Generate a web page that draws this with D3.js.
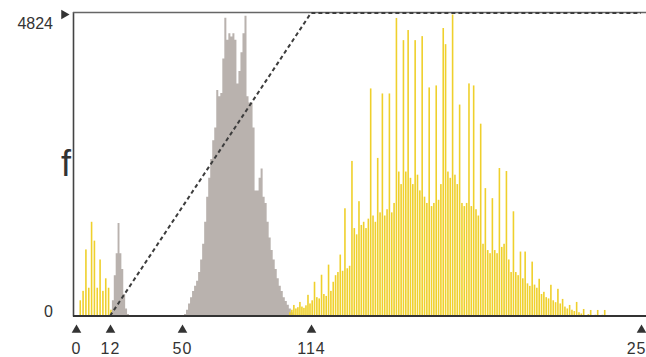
<!DOCTYPE html>
<html>
<head>
<meta charset="utf-8">
<script src="https://cdn.jsdelivr.net/npm/d3@7"></script>
<style>
	body { margin: 0; background: #fff; }
	svg { display: block; font-family: "Liberation Sans", Arial, sans-serif; }
</style>
</head>
<body>
<div id="chart"></div>
<script>
// tick values
const xTickValues = [0, 12, 50, 114, 255];
const yTickValues = [0, 4824];
const yMax = 4824;

// grey histogram, small peak (bins 12..21)
const graySmallStart = 12;
const graySmall = [60, 250, 650, 1000, 1480, 1000, 750, 350, 120, 30];

// grey histogram, main peak (bins 50..105)
const grayLargeStart = 50;
const grayLarge = [
	0, 30, 100, 200, 300, 400, 480, 560, 700, 900,
	1150, 1500, 1900, 2200, 2500, 2800, 3000, 3600, 3500, 3550,
	4100, 4750, 4400, 4500, 4450, 4500, 4400, 3700, 3900, 4200,
	4500, 4780, 3500, 3400, 3400, 3000, 2000, 2000, 2200, 2350,
	1900, 1800, 1500, 1250, 1050, 900, 750, 600, 480, 400,
	300, 240, 180, 120, 60, 20
];

// yellow histogram, low end (bins 0..12)
const yellowLowStart = 0;
const yellowLow = [0, 250, 400, 1060, 450, 1500, 1200, 450, 900, 400, 600, 450, 100];

// yellow histogram, high end (bins 103..240)
const yellowHighStart = 103;
const yellowHigh = [
	60, 100, 176, 120, 140, 224, 150, 130, 170, 337,
	200, 250, 545, 300, 280, 657, 350, 320, 818, 400,
	545, 650, 700, 978, 720, 1715, 760, 800, 2469, 1400,
	1300, 1828, 1450, 1500, 1400, 1550, 3623, 1600, 1500, 2517,
	1650, 3543, 1600, 1700, 3543, 1650, 1800, 4745, 2300, 2100,
	4392, 2300, 4553, 2200, 2100, 4392, 2250, 2000, 4456, 1900,
	1800, 3639, 1750, 1800, 3671, 1850, 2100, 4585, 4328, 2300,
	2200, 4800, 2250, 2100, 3366, 1800, 1750, 1800, 3703, 1750,
	3671, 1700, 1600, 3062, 1150, 2036, 1050, 1000, 1876, 1050,
	1000, 2356, 1100, 1150, 2308, 900, 700, 1667, 700, 650,
	1026, 600, 1026, 520, 480, 866, 500, 450, 593, 350,
	385, 300, 280, 497, 250, 220, 433, 200, 272, 150,
	120, 176, 100, 80, 224, 60, 40, 112, 0, 30,
	96, 0, 20, 96, 0, 20, 96, 0
];

// transfer curve (dashed)
const curvePoints = [[12, 0], [114, 4824], [255, 4824]];

const width = 646;
const height = 357;

const svg = d3.select("#chart")
	.append("svg")
	.attr("width", width)
	.attr("height", height);

// the printed axis is not evenly spaced, so map each labelled tick
const x = d3.scaleLinear()
	.domain(xTickValues)
	.range([76, 110, 182, 311, 641]);

const y = d3.scaleLinear()
	.domain([0, yMax])
	.range([316, 13]);

const toBins = (start, counts) => counts.map((c, i) => ({ v: start + i, c }));

// grey histogram as stepped areas (no seams between bins)
const grayArea = d3.area()
	.x(d => x(d.v))
	.y0(y(0))
	.y1(d => y(d.c))
	.curve(d3.curveStepAfter);

const grayGroup = svg.append("g").attr("class", "gray");
[[graySmallStart, graySmall], [grayLargeStart, grayLarge]].forEach(([start, counts]) => {
	const bins = toBins(start, counts);
	bins.push({ v: start + counts.length, c: 0 });
	grayGroup.append("path")
		.datum(bins)
		.attr("d", grayArea)
		.attr("fill", "#b9b2ae");
});

// yellow lines
const yellowBins = toBins(yellowLowStart, yellowLow).concat(toBins(yellowHighStart, yellowHigh));
svg.append("g")
	.attr("class", "yellow")
	.selectAll("rect")
	.data(yellowBins.filter(d => d.c > 0))
	.join("rect")
	.attr("x", d => (x(d.v) + x(d.v + 1)) / 2 - 0.8)
	.attr("width", 1.6)
	.attr("y", d => y(d.c))
	.attr("height", d => y(0) - y(d.c))
	.attr("fill", "#efd02c");

// frame
svg.append("line")
	.attr("x1", 73.5).attr("x2", 73.5)
	.attr("y1", 12).attr("y2", 316.5)
	.attr("stroke", "#444").attr("stroke-width", 1.6);
svg.append("line")
	.attr("x1", 73).attr("x2", width)
	.attr("y1", 12.5).attr("y2", 12.5)
	.attr("stroke", "#666").attr("stroke-width", 1.4);

// dashed transfer line
svg.append("path")
	.datum(curvePoints)
	.attr("d", d3.line().x(d => x(d[0])).y(d => y(d[1])))
	.attr("fill", "none")
	.attr("stroke", "#3d3d3d")
	.attr("stroke-width", 2)
	.attr("stroke-dasharray", "4,3");

// x axis
const xAxis = svg.append("g")
	.attr("class", "x-axis")
	.attr("transform", `translate(0, ${y(0)})`)
	.call(d3.axisBottom(x).tickValues(xTickValues).tickFormat(d3.format("d")).tickSize(0).tickPadding(27));
xAxis.select(".domain")
	.attr("d", `M73,0H${width}`)
	.attr("stroke", "#333")
	.attr("stroke-width", 2);
xAxis.selectAll(".tick")
	.append("path")
	.attr("d", d3.symbol(d3.symbolTriangle, 40))
	.attr("transform", "translate(0, 14)")
	.attr("fill", "#333");
xAxis.selectAll(".tick text")
	.attr("font-size", 16)
	.attr("letter-spacing", 1)
	.attr("fill", "#333");

// y axis
const yAxis = svg.append("g")
	.attr("class", "y-axis")
	.attr("transform", "translate(73, 0)")
	.call(d3.axisLeft(y).tickValues(yTickValues).tickFormat(d3.format("d")).tickSize(0).tickPadding(20));
yAxis.select(".domain").remove();
yAxis.selectAll(".tick text")
	.attr("font-size", 16)
	.attr("fill", "#333")
	.attr("dy", d => d === 0 ? "0" : "0.95em");
yAxis.selectAll(".tick")
	.filter(d => d === yMax)
	.append("path")
	.attr("d", d3.symbol(d3.symbolTriangle, 40))
	.attr("transform", "translate(-9, 1) rotate(90)")
	.attr("fill", "#333");

// axis title
svg.append("text")
	.attr("x", 66)
	.attr("y", 176)
	.attr("text-anchor", "middle")
	.attr("font-size", 36)
	.attr("fill", "#333")
	.text("f");
</script>
</body>
</html>
